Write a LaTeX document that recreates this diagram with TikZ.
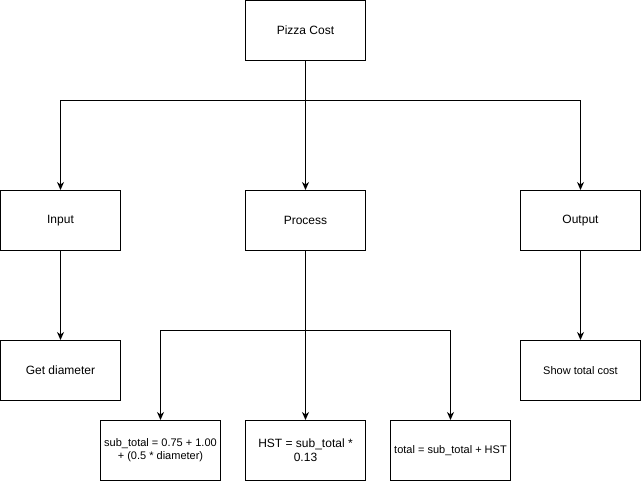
\documentclass[tikz,border=0pt]{standalone}
\usepackage{fontspec}
\setmainfont{Liberation Sans}
\usetikzlibrary{arrows, arrows.meta, positioning}

\begin{document}
\begin{tikzpicture}[>={Stealth[length=8pt, width=7pt, inset=2.5pt]}, x=1pt, y=1pt]
\tikzstyle{box} = [draw, line width=1pt, minimum width=120pt, minimum height=60pt, inner sep=0pt, align=center, fill=white, font=\fontsize{12}{14}\selectfont]
\tikzstyle{smallbox} = [box, font=\fontsize{11}{13}\selectfont]
\tikzstyle{link} = [line width=1pt]

\useasboundingbox (0,0) rectangle (641,-481);

%draw boxes
%%top
\node (pizzacost) [box] at (305.5,-30.5) {Pizza Cost};

%%second level
\node (process) [box, below of = pizzacost, node distance = 190pt] {Process};
\node (input) [box, left of = process, node distance = 245pt] {Input};
\node (output) [box, right of = process, node distance = 275pt] {Output};

%%third level
\node (getdiameter) [box, below of = input, node distance = 150pt] {Get diameter};
\node (showtotal) [smallbox, below of = output, node distance = 150pt] {Show total cost};
\node (hst) [box, below of = process, node distance = 230pt] {HST = sub\_total *\\0.13};
\node (subtotal) [smallbox, left of = hst, node distance = 145pt] {sub\_total = 0.75 + 1.00\\+ (0.5 * diameter)};
\node (total) [smallbox, right of = hst, node distance = 145pt] {total = sub\_total + HST};

%draw connectors
\coordinate[name = topsplit, below of = pizzacost, node distance = 70pt];
\draw [link, ->] (pizzacost.south) -- (topsplit) -| (input.north);
\draw [link, ->] (topsplit) -| (output.north);
\draw [link, ->] (topsplit) -- (process.north);

\draw [link, ->] (input.south) -- (getdiameter.north);
\draw [link, ->] (output.south) -- (showtotal.north);

\coordinate[name = processsplit, below of = process, node distance = 110pt];
\draw [link, ->] (process.south) -- (processsplit) -| (subtotal.north);
\draw [link, ->] (processsplit) -| (total.north);
\draw [link, ->] (processsplit) -- (hst.north);

\end{tikzpicture}
\end{document}
